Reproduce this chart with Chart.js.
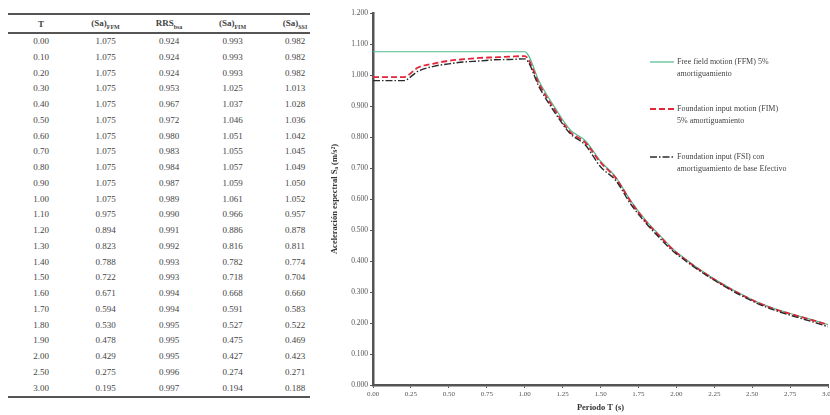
<!DOCTYPE html>
<html>
<head>
<meta charset="utf-8">
<script src="https://cdn.jsdelivr.net/npm/chart.js@4.4.1/dist/chart.umd.min.js"></script>
<style>
  html, body { margin: 0; padding: 0; background: #fff; width: 830px; height: 415px; overflow: hidden; }
  #tbl { position: absolute; left: 8px; top: 13px; width: 302px; overflow: hidden; }
  table { border-collapse: collapse; width: 318px; table-layout: fixed;
          font-family: "Liberation Serif", "Times New Roman", serif; font-size: 9px; color: #444; }
  th, td { padding: 0; text-align: center; white-space: nowrap; }
  thead th { height: 17px; font-weight: bold; border-top: 2px solid #555; border-bottom: 2px solid #555; }
  tbody td { height: 15.75px; line-height: 15.75px; }
  tbody tr:last-child td { border-bottom: 2px solid #555; }
  sub { font-size: 6px; }
  #chartBox { position: absolute; left: 330px; top: 0; width: 520px; height: 415px; }
</style>
</head>
<body>
<div id="tbl">
  <table>
    <colgroup><col style="width:66px"><col style="width:63px"><col style="width:64px"><col style="width:63px"><col style="width:62px"></colgroup>
    <thead><tr><th>T</th><th>(Sa)<sub>FFM</sub></th><th>RRS<sub>bsa</sub></th><th>(Sa)<sub>FIM</sub></th><th>(Sa)<sub>SSI</sub></th></tr></thead>
    <tbody id="rows"></tbody>
  </table>
</div>
<div id="chartBox"><canvas id="c"></canvas></div>
<script>
const periods = [0.00, 0.10, 0.20, 0.30, 0.40, 0.50, 0.60, 0.70, 0.80, 0.90, 1.00, 1.10,
                 1.20, 1.30, 1.40, 1.50, 1.60, 1.70, 1.80, 1.90, 2.00, 2.50, 3.00];
const saFFM  = [1.075, 1.075, 1.075, 1.075, 1.075, 1.075, 1.075, 1.075, 1.075, 1.075, 1.075, 0.975,
                0.894, 0.823, 0.788, 0.722, 0.671, 0.594, 0.530, 0.478, 0.429, 0.275, 0.195];
const rrsBSA = [0.924, 0.924, 0.924, 0.953, 0.967, 0.972, 0.980, 0.983, 0.984, 0.987, 0.989, 0.990,
                0.991, 0.992, 0.993, 0.993, 0.994, 0.994, 0.995, 0.995, 0.995, 0.996, 0.997];
const saFIM  = [0.993, 0.993, 0.993, 1.025, 1.037, 1.046, 1.051, 1.055, 1.057, 1.059, 1.061, 0.966,
                0.886, 0.816, 0.782, 0.718, 0.668, 0.591, 0.527, 0.475, 0.427, 0.274, 0.194];
const saSSI  = [0.982, 0.982, 0.982, 1.013, 1.028, 1.036, 1.042, 1.045, 1.049, 1.050, 1.052, 0.957,
                0.878, 0.811, 0.774, 0.704, 0.660, 0.583, 0.522, 0.469, 0.423, 0.271, 0.188];

const seriesLabels = [
  ['Free field motion (FFM) 5%', 'amortiguamiento'],
  ['Foundation input motion (FIM)', '5% amortiguamiento'],
  ['Foundation input (FSI) con', 'amortiguamiento de base Efectivo'],
];

// table
const tb = document.getElementById('rows');
periods.forEach((t, i) => {
  const tr = document.createElement('tr');
  [t.toFixed(2), saFFM[i].toFixed(3), rrsBSA[i].toFixed(3), saFIM[i].toFixed(3), saSSI[i].toFixed(3)]
    .forEach(v => { const td = document.createElement('td'); td.textContent = v; tr.appendChild(td); });
  tb.appendChild(tr);
});

const pts = (ys) => periods.map((x, i) => ({ x, y: ys[i] }));
const serif = '"Liberation Serif", "Times New Roman", serif';

// legend at the right, two text lines per entry
const sideLegend = {
  id: 'sideLegend',
  afterDraw(chart) {
    const ctx = chart.ctx;
    const x0 = 320, tx = 347, ys = [62, 109, 157];
    ctx.save();
    ctx.font = '8px ' + serif;
    ctx.textBaseline = 'middle';
    chart.data.datasets.forEach((ds, i) => {
      const y = ys[i];
      ctx.strokeStyle = ds.borderColor;
      ctx.lineWidth = ds.borderWidth;
      ctx.setLineDash(ds.borderDash || []);
      ctx.beginPath(); ctx.moveTo(x0, y); ctx.lineTo(x0 + 24, y); ctx.stroke();
      ctx.setLineDash([]);
      ctx.fillStyle = '#444';
      seriesLabels[i].forEach((ln, k) => ctx.fillText(ln, tx, y + k * 12));
    });
    ctx.restore();
  }
};

new Chart(document.getElementById('c'), {
  type: 'line',
  data: {
    datasets: [
      { label: seriesLabels[0].join(' '), data: pts(saFFM), borderColor: '#4dbb8f', borderWidth: 1.2, order: 3 },
      { label: seriesLabels[1].join(' '), data: pts(saFIM), borderColor: '#e3263a', borderWidth: 1.8, borderDash: [6, 3], order: 2 },
      { label: seriesLabels[2].join(' '), data: pts(saSSI), borderColor: '#2b2b2b', borderWidth: 1.4, borderDash: [7, 2, 1.5, 2], order: 1 },
    ]
  },
  options: {
    responsive: true, maintainAspectRatio: false, animation: false,
    layout: { padding: { top: 13, right: 22, left: 0, bottom: 0 } },
    elements: { point: { radius: 0 }, line: { cubicInterpolationMode: 'monotone' } },
    plugins: { legend: { display: false }, tooltip: { enabled: false } },
    scales: {
      x: {
        type: 'linear', min: 0, max: 3,
        afterFit: (s) => { s.height = 30; },
        border: { color: '#555', width: 2.5 },
        grid: { drawOnChartArea: false, tickLength: 3, color: '#555' },
        ticks: { stepSize: 0.25, padding: 2, color: '#555', font: { family: serif, size: 7 },
                 maxRotation: 0, callback: (v) => v.toFixed(2) },
        title: { display: true, text: 'Periodo T (s)', color: '#333', padding: { top: 0, bottom: 2 },
                 font: { family: serif, size: 8.5, weight: 'bold' } }
      },
      y: {
        min: 0, max: 1.2,
        afterFit: (s) => { s.width = 43; },
        border: { color: '#555', width: 2.5 },
        grid: { drawOnChartArea: false, tickLength: 3, color: '#555' },
        ticks: { stepSize: 0.1, padding: 2, color: '#555', font: { family: serif, size: 7.5 },
                 callback: (v) => v.toFixed(3) },
        title: { display: true, text: 'Aceleración espectral Sₐ (m/s²)', color: '#333', padding: { top: 0, bottom: 2 },
                 font: { family: serif, size: 8.5, weight: 'bold' } }
      }
    }
  },
  plugins: [sideLegend]
});
</script>
</body>
</html>
